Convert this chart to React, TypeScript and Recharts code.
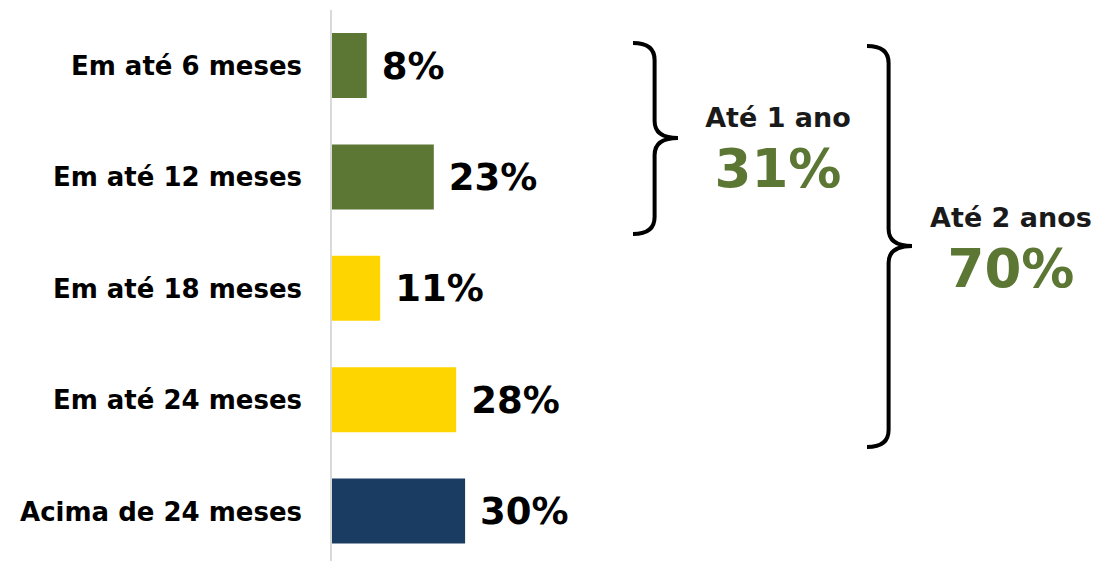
import { BarChart, Bar, XAxis, YAxis, Cell, LabelList } from 'recharts'

const categories = ['Em até 6 meses', 'Em até 12 meses', 'Em até 18 meses', 'Em até 24 meses', 'Acima de 24 meses']
const shares = [8, 23, 11, 28, 30]
const barColors = ['#5C7634', '#5C7634', '#FFD500', '#FFD500', '#1A3C62']

const groupLabels = ['Até 1 ano', 'Até 2 anos']
const groupSizes = [2, 4]

const FONT = "'DejaVu Sans', Verdana, sans-serif"
const GREEN = '#5C7634'

const chartData = categories.map((name, i) => ({ name, value: shares[i], color: barColors[i] }))
const groupTotals = groupSizes.map(n => shares.slice(0, n).reduce((a, b) => a + b, 0))

function Brace({ x, top, mid, bottom, w }: { x: number; top: number; mid: number; bottom: number; w: number }) {
  const v = x + w * 0.48
  const r = 17
  const d = `M${x},${top} Q${v},${top} ${v},${top + r} L${v},${mid - r} Q${v},${mid} ${x + w},${mid} ` +
    `Q${v},${mid} ${v},${mid + r} L${v},${bottom - r} Q${v},${bottom} ${x},${bottom}`
  return <path d={d} fill="none" stroke="#000" strokeWidth={4} />
}

export default function App() {
  return (
    <div style={{ position: 'absolute', left: 0, top: 0, width: 1102, height: 561, overflow: 'hidden', background: '#fff' }}>
      <BarChart
        width={1102}
        height={567}
        data={chartData}
        layout="vertical"
        margin={{ top: 10, right: 324, left: 0, bottom: 0 }}
        barSize={65}
      >
        <XAxis type="number" domain={[0, 100]} hide />
        <YAxis
          type="category"
          dataKey="name"
          width={331}
          tickLine={false}
          tickSize={0}
          tickMargin={29}
          axisLine={{ stroke: '#D9D9D9', strokeWidth: 2 }}
          tick={{ fontSize: 26, fontWeight: 'bold', fill: '#000', fontFamily: FONT }}
        />
        <Bar dataKey="value" isAnimationActive={false}>
          {chartData.map(d => (
            <Cell key={d.name} fill={d.color} />
          ))}
          <LabelList
            dataKey="value"
            position="right"
            offset={15}
            formatter={(v: any) => `${v}%`}
            style={{ fontSize: 37, fontWeight: 'bold', fill: '#000', fontFamily: FONT }}
          />
        </Bar>
      </BarChart>
      <svg width={1102} height={561} style={{ position: 'absolute', left: 0, top: 0, pointerEvents: 'none' }}>
        <Brace x={633} top={43} mid={138} bottom={234} w={45} />
        <Brace x={867} top={46} mid={246} bottom={447} w={45} />
        <g fontFamily={FONT} fontWeight="bold" textAnchor="middle">
          <text x={778} y={127} fontSize={27} fill="#1A1A1A">{groupLabels[0]}</text>
          <text x={778} y={187} fontSize={53} fill={GREEN}>{groupTotals[0]}%</text>
          <text x={1011} y={227} fontSize={27} fill="#1A1A1A">{groupLabels[1]}</text>
          <text x={1011} y={287} fontSize={53} fill={GREEN}>{groupTotals[1]}%</text>
        </g>
      </svg>
    </div>
  )
}
